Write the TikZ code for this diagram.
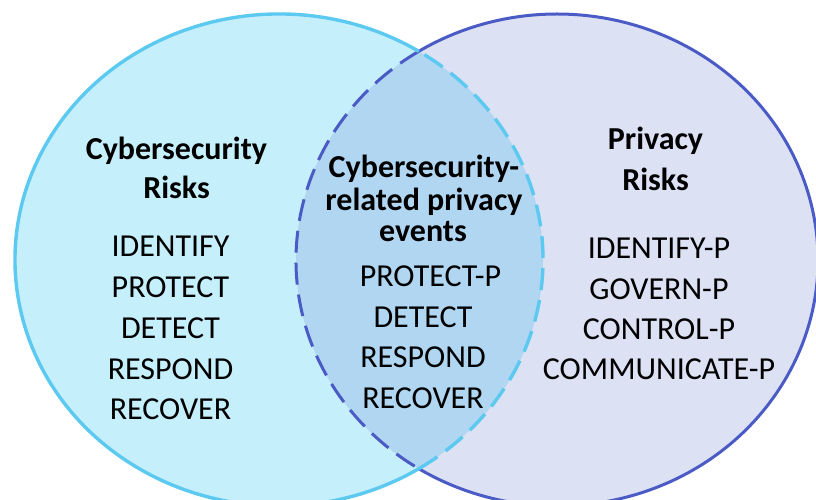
\documentclass[tikz,border=0pt]{standalone}
\usepackage{fontspec}
\setmainfont{Carlito}
\usepackage{tikz}
\usetikzlibrary{positioning}

\definecolor{csFill}{HTML}{C6EFFC}
\definecolor{csLine}{HTML}{5BC9F0}
\definecolor{pvFill}{HTML}{DDE1F4}
\definecolor{pvLine}{HTML}{4A5BC6}
\definecolor{bothFill}{HTML}{B0D6F1}

\tikzset{
  item/.style={font=\fontsize{32}{38}\selectfont, inner sep=0pt, anchor=base},
  head/.style={font=\fontsize{32}{38}\selectfont\bfseries, inner sep=0pt, anchor=base},
  seam/.style={dash pattern=on 22pt off 10pt},
}

\begin{document}
\begin{tikzpicture}[x=1pt, y=1pt]
\clip (0,0) rectangle (816,500);

\coordinate (cL) at (279,240);
\coordinate (cP) at (557,240);

% areas
\fill[csFill] (cL) ellipse[x radius=264, y radius=246];
\fill[pvFill] (cP) ellipse[x radius=261, y radius=246];
\begin{scope}
\clip (cL) ellipse[x radius=264, y radius=246];
\fill[bothFill] (cP) ellipse[x radius=261, y radius=246];
\end{scope}

% borders
\draw[pvLine, line width=3pt] ([shift={(-122:261 and 246)}]cP) arc[start angle=-122, end angle=122, x radius=261, y radius=246];
\draw[pvLine, line width=3pt, seam] ([shift={(122:261 and 246)}]cP) arc[start angle=122, end angle=238, x radius=261, y radius=246];
\draw[csLine, line width=3.4pt] ([shift={(58:264 and 246)}]cL) arc[start angle=58, end angle=302, x radius=264, y radius=246];
\draw[csLine, line width=3.4pt, seam] ([shift={(-58:264 and 246)}]cL) arc[start angle=-58, end angle=58, x radius=264, y radius=246];

% cybersecurity side
\node[head] (csHead1) at (176.5,340) {Cybersecurity};
\node[head] (csHead2) at (176.5,301) {Risks};
\foreach \t [count=\i] in {IDENTIFY, PROTECT, DETECT, RESPOND, RECOVER}
  \node[item] (cs\i) at (170.5,{243.3-(\i-1)*40.8}) {\t};

% overlap
\node[head] (bothHead1) at (424,322.7) {Cybersecurity-};
\node[head] (bothHead2) at (424,289.3) {related privacy};
\node[head] (bothHead3) at (423,258.3) {events};
\foreach \x/\t [count=\i] in {430.5/PROTECT-P, 423/DETECT, 423/RESPOND, 423/RECOVER}
  \node[item] (both\i) at (\x,{213.3-(\i-1)*40.5}) {\t};

% privacy side
\node[head] (pvHead1) at (655.5,350) {Privacy};
\node[head] (pvHead2) at (655.5,309) {Risks};
\foreach \t [count=\i] in {IDENTIFY-P, GOVERN-P, CONTROL-P, COMMUNICATE-P}
  \node[item] (pv\i) at (659,{241-(\i-1)*40.3}) {\t};
\end{tikzpicture}
\end{document}
